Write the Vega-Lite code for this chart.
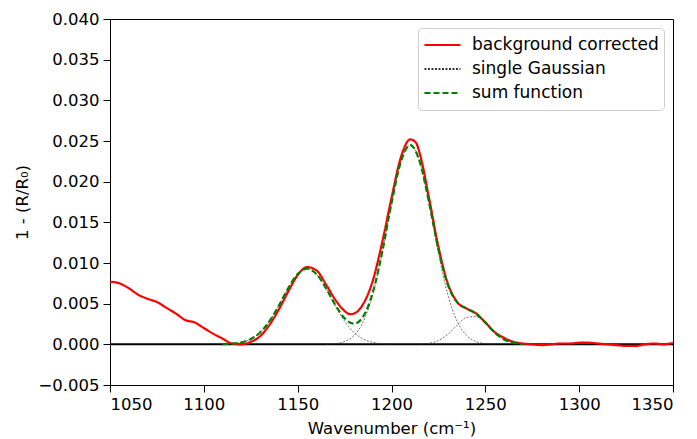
{
  "$schema": "https://vega.github.io/schema/vega-lite/v6.json",
  "width": 563,
  "height": 366,
  "autosize": {"type": "none"},
  "padding": {"left": 110, "top": 19, "right": 24, "bottom": 54},
  "background": "white",
  "config": {
    "font": "DejaVu Sans",
    "view": {"stroke": "black", "strokeWidth": 1},
    "axis": {"grid": false, "domainColor": "black", "tickColor": "black", "labelColor": "black", "titleColor": "black", "labelFontSize": 16.5, "titleFontSize": 16.5, "titleFontWeight": "normal", "tickSize": 7, "labelPadding": 4, "labelFont": "DejaVu Sans", "titleFont": "DejaVu Sans"},
    "legend": {"labelFontSize": 17, "labelFont": "DejaVu Sans", "labelColor": "black", "labelLimit": 400}
  },
  "datasets": {
    "red": [
      {"wn":1050,"val":0.0077},{"wn":1055,"val":0.0075},{"wn":1060,"val":0.0069},{"wn":1065,"val":0.0061},{"wn":1070,"val":0.0056},{"wn":1075,"val":0.0052},{"wn":1080,"val":0.0045},{"wn":1085,"val":0.0038},{"wn":1090,"val":0.0030},{"wn":1095,"val":0.0027},{"wn":1100,"val":0.0020},{"wn":1105,"val":0.0013},{"wn":1110,"val":0.0007},{"wn":1115,"val":0.0001},{"wn":1120,"val":0.0000},{"wn":1125,"val":0.0003},{"wn":1130,"val":0.0010},{"wn":1135,"val":0.0024},{"wn":1140,"val":0.0043},{"wn":1145,"val":0.0065},{"wn":1150,"val":0.0085},{"wn":1155,"val":0.0095},{"wn":1160,"val":0.0091},{"wn":1165,"val":0.0074},{"wn":1170,"val":0.0055},{"wn":1175,"val":0.0041},{"wn":1178,"val":0.0037},{"wn":1181,"val":0.0039},{"wn":1185,"val":0.0050},{"wn":1190,"val":0.0078},{"wn":1195,"val":0.0125},{"wn":1200,"val":0.0180},{"wn":1205,"val":0.0230},{"wn":1210,"val":0.0252},{"wn":1213,"val":0.0248},{"wn":1215,"val":0.0235},{"wn":1220,"val":0.0180},{"wn":1225,"val":0.0120},{"wn":1230,"val":0.0075},{"wn":1235,"val":0.0052},{"wn":1240,"val":0.0044},{"wn":1245,"val":0.0038},{"wn":1250,"val":0.0027},{"wn":1255,"val":0.0015},{"wn":1260,"val":0.0008},{"wn":1265,"val":0.0003},{"wn":1270,"val":0.0001},{"wn":1275,"val":0.0000},{"wn":1280,"val":-0.0001},{"wn":1285,"val":0.0000},{"wn":1290,"val":0.0001},{"wn":1295,"val":0.0001},{"wn":1300,"val":0.0002},{"wn":1305,"val":0.0002},{"wn":1310,"val":0.0001},{"wn":1315,"val":0.0000},{"wn":1320,"val":-0.0001},{"wn":1325,"val":-0.0002},{"wn":1330,"val":-0.0002},{"wn":1335,"val":0.0000},{"wn":1340,"val":0.0001},{"wn":1345,"val":0.0000},{"wn":1350,"val":0.0002}
    ],
    "gauss": [
      {"comp":"g1","wn":1110,"val":0.00002},{"comp":"g1","wn":1115,"val":0.00008},{"comp":"g1","wn":1120,"val":0.00025},{"comp":"g1","wn":1125,"val":0.00065},{"comp":"g1","wn":1130,"val":0.00146},{"comp":"g1","wn":1135,"val":0.00285},{"comp":"g1","wn":1140,"val":0.00478},{"comp":"g1","wn":1145,"val":0.00692},{"comp":"g1","wn":1150,"val":0.00864},{"comp":"g1","wn":1155,"val":0.0093},{"comp":"g1","wn":1160,"val":0.00864},{"comp":"g1","wn":1165,"val":0.00692},{"comp":"g1","wn":1170,"val":0.00478},{"comp":"g1","wn":1175,"val":0.00285},{"comp":"g1","wn":1180,"val":0.00146},{"comp":"g1","wn":1185,"val":0.00065},{"comp":"g1","wn":1190,"val":0.00025},{"comp":"g1","wn":1195,"val":0.00008},{"comp":"g1","wn":1200,"val":0.00002},
      {"comp":"g2","wn":1165,"val":0.00002},{"comp":"g2","wn":1170,"val":0.00009},{"comp":"g2","wn":1175,"val":0.00035},{"comp":"g2","wn":1180,"val":0.00108},{"comp":"g2","wn":1185,"val":0.0028},{"comp":"g2","wn":1190,"val":0.00611},{"comp":"g2","wn":1195,"val":0.01122},{"comp":"g2","wn":1200,"val":0.01732},{"comp":"g2","wn":1205,"val":0.02246},{"comp":"g2","wn":1210,"val":0.0245},{"comp":"g2","wn":1215,"val":0.02246},{"comp":"g2","wn":1220,"val":0.01732},{"comp":"g2","wn":1225,"val":0.01122},{"comp":"g2","wn":1230,"val":0.00611},{"comp":"g2","wn":1235,"val":0.0028},{"comp":"g2","wn":1240,"val":0.00108},{"comp":"g2","wn":1245,"val":0.00035},{"comp":"g2","wn":1250,"val":0.00009},{"comp":"g2","wn":1255,"val":0.00002},
      {"comp":"g3","wn":1215,"val":0.00003},{"comp":"g3","wn":1220,"val":0.00013},{"comp":"g3","wn":1225,"val":0.00047},{"comp":"g3","wn":1230,"val":0.00123},{"comp":"g3","wn":1235,"val":0.00236},{"comp":"g3","wn":1240,"val":0.00331},{"comp":"g3","wn":1245,"val":0.00342},{"comp":"g3","wn":1250,"val":0.00259},{"comp":"g3","wn":1255,"val":0.00144},{"comp":"g3","wn":1260,"val":0.00059},{"comp":"g3","wn":1265,"val":0.00018},{"comp":"g3","wn":1270,"val":0.00004}
    ],
    "sum": [
      {"wn":1110,"val":0.00002},{"wn":1115,"val":0.00008},{"wn":1120,"val":0.00025},{"wn":1125,"val":0.00065},{"wn":1130,"val":0.00146},{"wn":1135,"val":0.00285},{"wn":1140,"val":0.00478},{"wn":1145,"val":0.00692},{"wn":1150,"val":0.00864},{"wn":1155,"val":0.0093},{"wn":1160,"val":0.00864},{"wn":1165,"val":0.00694},{"wn":1170,"val":0.00487},{"wn":1175,"val":0.0032},{"wn":1180,"val":0.00254},{"wn":1185,"val":0.00345},{"wn":1190,"val":0.00636},{"wn":1195,"val":0.0113},{"wn":1200,"val":0.01734},{"wn":1205,"val":0.02246},{"wn":1210,"val":0.0245},{"wn":1215,"val":0.02249},{"wn":1220,"val":0.01745},{"wn":1225,"val":0.01169},{"wn":1230,"val":0.00734},{"wn":1235,"val":0.00516},{"wn":1240,"val":0.00439},{"wn":1245,"val":0.00377},{"wn":1250,"val":0.00268},{"wn":1255,"val":0.00144},{"wn":1260,"val":0.00059},{"wn":1265,"val":0.00018},{"wn":1270,"val":0.00004}
    ]
  },
  "encoding": {
    "x": {"field": "wn", "type": "quantitative", "title": "Wavenumber (cm⁻¹)", "scale": {"domain": [1050, 1350], "nice": false, "zero": false}, "axis": {"values": [1050,1100,1150,1200,1250,1300,1350], "format": "d", "titlePadding": 8}},
    "y": {"field": "val", "type": "quantitative", "title": "1 - (R/R₀)", "scale": {"domain": [-0.005, 0.04], "nice": false, "zero": false}, "axis": {"values": [-0.005,0,0.005,0.01,0.015,0.02,0.025,0.03,0.035,0.04], "format": ".3f", "titlePadding": 7}}
  },
  "layer": [
    {
      "data": {"values": [{"zero": 0}]},
      "mark": {"type": "rule", "color": "black", "strokeWidth": 2},
      "encoding": {"y": {"field": "zero", "type": "quantitative"}, "x": null}
    },
    {
      "data": {"name": "red"},
      "transform": [{"calculate": "'background corrected'", "as": "series"}],
      "mark": {"type": "line", "interpolate": "monotone", "clip": true, "strokeWidth": 2.2},
      "encoding": {
        "color": {"field": "series", "type": "nominal", "scale": {"domain": ["background corrected", "single Gaussian", "sum function"], "range": ["#ff0000", "#333333", "#008000"]}, "legend": {"title": null, "orient": "none", "legendX": 308, "legendY": 9, "fillColor": "white", "strokeColor": "#cccccc", "cornerRadius": 4, "padding": 5, "symbolType": "stroke", "symbolSize": 1300, "symbolStrokeWidth": 2, "rowPadding": 0, "clipHeight": 24, "labelOffset": 10}},
        "strokeDash": {"field": "series", "type": "nominal", "scale": {"domain": ["background corrected", "single Gaussian", "sum function"], "range": [[1, 0], [2, 1.5], [6, 3]]}, "legend": {"title": null}}
      }
    },
    {
      "data": {"name": "gauss"},
      "transform": [{"calculate": "'single Gaussian'", "as": "series"}],
      "mark": {"type": "line", "interpolate": "monotone", "clip": true, "strokeWidth": 0.7},
      "encoding": {
        "detail": {"field": "comp"},
        "color": {"field": "series", "type": "nominal"},
        "strokeDash": {"field": "series", "type": "nominal"}
      }
    },
    {
      "data": {"name": "sum"},
      "transform": [{"calculate": "'sum function'", "as": "series"}],
      "mark": {"type": "line", "interpolate": "monotone", "clip": true, "strokeWidth": 2.2},
      "encoding": {
        "color": {"field": "series", "type": "nominal"},
        "strokeDash": {"field": "series", "type": "nominal"}
      }
    }
  ]
}
